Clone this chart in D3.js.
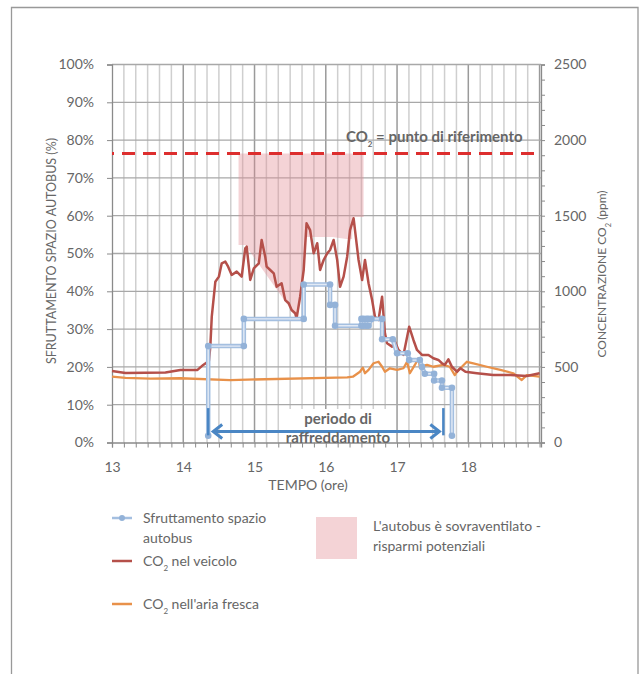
<!DOCTYPE html>
<html>
<head>
<meta charset="utf-8">
<script src="https://cdn.jsdelivr.net/npm/d3@7"></script>
<style>
  body { margin: 0; background: #fff; }
  svg text { font-family: Lato, "Open Sans", sans-serif; fill: #666; }
</style>
</head>
<body>
<svg id="chart" width="639" height="674"></svg>
<script>
// --- data ---
const hourTicks = [13, 14, 15, 16, 17, 18];
const pctTicks = [0, 10, 20, 30, 40, 50, 60, 70, 80, 90, 100];
const ppmTicks = [0, 500, 1000, 1500, 2000, 2500];

const setpoint = 1912; // ppm, "CO2 = punto di riferimento"

// CO2 in the vehicle (ppm)
const co2Time = [13.0, 13.19, 13.75, 13.96, 14.2, 14.28, 14.36, 14.38, 14.40, 14.45, 14.50, 14.54, 14.59, 14.63, 14.68, 14.75, 14.82, 14.87, 14.89, 14.94, 14.99, 15.06, 15.10, 15.15, 15.17, 15.22, 15.27, 15.31, 15.38, 15.43, 15.48, 15.52, 15.57, 15.59, 15.64, 15.69, 15.73, 15.78, 15.83, 15.88, 15.92, 15.97, 16.02, 16.06, 16.11, 16.16, 16.20, 16.25, 16.30, 16.34, 16.39, 16.41, 16.46, 16.51, 16.55, 16.60, 16.65, 16.69, 16.74, 16.79, 16.83, 16.86, 16.93, 16.97, 17.02, 17.09, 17.17, 17.23, 17.28, 17.35, 17.44, 17.51, 17.58, 17.63, 17.67, 17.72, 17.77, 17.84, 17.89, 17.96, 18.12, 18.35, 18.59, 18.82, 19.0];
const co2Vehicle = [473, 460, 463, 480, 480, 513, 539, 638, 832, 1063, 1097, 1185, 1196, 1163, 1108, 1130, 1097, 1284, 1295, 1075, 1152, 1185, 1340, 1229, 1163, 1141, 1119, 1030, 1053, 942, 921, 876, 855, 821, 964, 1141, 1450, 1405, 1251, 1318, 1141, 1207, 1251, 1273, 1339, 1207, 1030, 1097, 1229, 1405, 1483, 1405, 1207, 1075, 1207, 1053, 942, 832, 810, 964, 722, 656, 634, 667, 612, 579, 766, 678, 612, 579, 579, 557, 546, 524, 513, 550, 501, 468, 491, 468, 458, 446, 446, 440, 458];

// CO2 in fresh air (ppm)
const freshTime = [13.0, 13.19, 13.54, 13.96, 14.66, 16.30, 16.38, 16.48, 16.52, 16.55, 16.60, 16.67, 16.74, 16.79, 16.83, 16.90, 17.0, 17.09, 17.14, 17.18, 17.25, 17.30, 17.32, 17.42, 17.51, 17.65, 17.74, 17.81, 17.86, 17.91, 17.98, 18.07, 18.26, 18.45, 18.63, 18.75, 18.82, 19.0];
const freshAir = [435, 427, 422, 425, 413, 431, 435, 468, 495, 458, 480, 524, 534, 501, 468, 491, 480, 491, 534, 458, 513, 557, 501, 513, 501, 513, 501, 446, 480, 501, 534, 524, 501, 480, 458, 413, 446, 435];

// bus space use (%), step series with markers
const busTime = [14.35, 14.35, 14.85, 14.85, 15.69, 15.69, 16.06, 16.06, 16.13, 16.13, 16.50, 16.50, 16.53, 16.53, 16.57, 16.57, 16.60, 16.60, 16.64, 16.79, 16.79, 16.94, 17.0, 17.15, 17.17, 17.32, 17.35, 17.39, 17.52, 17.52, 17.63, 17.63, 17.77, 17.77];
const busPct = [1.8, 25.5, 25.5, 32.7, 32.7, 41.8, 41.8, 36.4, 36.4, 30.9, 30.9, 32.7, 32.7, 30.9, 30.9, 32.7, 32.7, 30.9, 32.7, 32.7, 27.3, 27.3, 23.6, 23.6, 21.8, 21.8, 20.0, 18.2, 18.2, 16.4, 16.4, 14.5, 14.5, 1.8];

// over-ventilation band: from lower edge (ppm) up to the setpoint
const savingsTime = [14.776, 14.87, 15.595, 15.64, 15.687, 15.73, 16.09, 16.29, 16.37, 16.38, 16.53];
const savingsLow = [1306, 1306, 823, 962, 1141, 1359, 1359, 1346, 1346, 1491, 1491];

// cooling period arrow
const coolStart = 14.35, coolEnd = 17.65, coolLevel = 2.9;

// --- layout ---
const svg = d3.select("#chart");
const plotLeft = 112, plotRight = 541, plotTop = 64.5, plotBottom = 442.5;

const x = d3.scaleLinear().domain([13, 19.02]).range([plotLeft, plotRight]);
const y = d3.scaleLinear().domain([0, 100]).range([plotBottom, plotTop]);
const yR = d3.scaleLinear().domain([0, 2500]).range([plotBottom, plotTop]);

// outer frame
svg.append("path")
    .attr("d", "M11.5,680 L11.5,7.5 L638,7.5 L638,680")
    .attr("fill", "none")
    .attr("stroke", "#999")
    .attr("stroke-width", 1.3);

// Vertical gridlines, 10 minute steps
const minorTimes = d3.range(0, 37).map(i => 13 + i / 6);
svg.append("g").selectAll("line")
    .data(minorTimes.filter((d, i) => i % 6 !== 0 && i > 0))
    .enter().append("line")
    .attr("x1", d => x(d)).attr("x2", d => x(d))
    .attr("y1", plotTop).attr("y2", plotBottom)
    .attr("stroke", "#cfcfcf").attr("stroke-width", 1.5);
svg.append("g").selectAll("line")
    .data(hourTicks.slice(1).concat([19]))
    .enter().append("line")
    .attr("x1", d => x(d)).attr("x2", d => x(d))
    .attr("y1", plotTop).attr("y2", plotBottom)
    .attr("stroke", "#9a9a9a").attr("stroke-width", 1.5);

// horizontal gridlines
svg.append("g").selectAll("line")
    .data(pctTicks.slice(1))
    .enter().append("line")
    .attr("x1", plotLeft).attr("x2", plotRight)
    .attr("y1", d => y(d)).attr("y2", d => y(d))
    .attr("stroke", "#a8a8a8").attr("stroke-width", 1.3);

// Over-ventilation area
const band = savingsTime.map((t, i) => ({ t: t, low: savingsLow[i] }));
svg.append("path")
    .datum(band)
    .attr("d", d3.area().x(d => x(d.t)).y0(d => yR(d.low)).y1(yR(setpoint)))
    .attr("fill", "rgb(226,140,146)")
    .attr("fill-opacity", 0.38);

// axes
const xAxis = svg.append("g")
    .attr("transform", `translate(0,${plotBottom})`)
    .call(d3.axisBottom(x).tickValues(minorTimes).tickSize(5).tickFormat(""));
xAxis.select(".domain").attr("stroke", "#8a8a8a").attr("stroke-width", 1.3);
xAxis.selectAll(".tick line").attr("stroke", "#8a8a8a");

const xLabels = svg.append("g")
    .attr("transform", `translate(0,${plotBottom})`)
    .call(d3.axisBottom(x).tickValues(hourTicks).tickSize(0).tickPadding(20).tickFormat(d3.format("d")));
xLabels.select(".domain").remove();
xLabels.selectAll("text").style("font-size", "14px").attr("fill", "#666");

const yAxis = svg.append("g")
    .attr("transform", `translate(${plotLeft},0)`)
    .call(d3.axisLeft(y).tickValues(pctTicks).tickSize(5).tickPadding(13).tickFormat(d => d + "%"));
yAxis.select(".domain").attr("stroke", "#8a8a8a").attr("stroke-width", 1.3);
yAxis.selectAll(".tick line").attr("stroke", "#8a8a8a");
yAxis.selectAll("text").style("font-size", "14px").attr("fill", "#666");

const yRMinor = svg.append("g")
    .attr("transform", `translate(${plotRight},0)`)
    .call(d3.axisRight(yR).tickValues(d3.range(0, 2501, 100)).tickSize(4).tickFormat(""));
yRMinor.select(".domain").attr("stroke", "#8a8a8a").attr("stroke-width", 1.3);
yRMinor.selectAll(".tick line").attr("stroke", "#8a8a8a");

const yRAxis = svg.append("g")
    .attr("transform", `translate(${plotRight},0)`)
    .call(d3.axisRight(yR).tickValues(ppmTicks).tickSize(0).tickPadding(13).tickFormat(d3.format("d")));
yRAxis.select(".domain").remove();
yRAxis.selectAll("text").style("font-size", "14px").attr("fill", "#666");

// fresh air line
const line = d3.line().x(d => x(d[0])).y(d => yR(d[1]));
svg.append("path")
    .datum(freshTime.map((t, i) => [t, freshAir[i]]))
    .attr("d", line)
    .attr("fill", "none").attr("stroke", "#e8914a").attr("stroke-width", 2.3)
    .attr("stroke-linejoin", "round");

// vehicle line
svg.append("path")
    .datum(co2Time.map((t, i) => [t, co2Vehicle[i]]))
    .attr("d", line)
    .attr("fill", "none").attr("stroke", "#b5504a").attr("stroke-width", 2.5)
    .attr("stroke-linejoin", "round");

// bus use step line
const busPts = busTime.map((t, i) => [t, busPct[i]]);
const busLine = d3.line().x(d => x(d[0])).y(d => y(d[1]));
svg.append("path").datum(busPts).attr("d", busLine)
    .attr("fill", "none").attr("stroke", "#a4bfe0").attr("stroke-width", 4.5);
svg.append("path").datum(busPts).attr("d", busLine)
    .attr("fill", "none").attr("stroke", "#e2eaf5").attr("stroke-width", 1.4);
svg.append("g").selectAll("circle")
    .data(busPts).enter().append("circle")
    .attr("cx", d => x(d[0])).attr("cy", d => y(d[1]))
    .attr("r", 3.3).attr("fill", "#93b2d8");

// set point dashed line
svg.append("line")
    .attr("x1", plotLeft).attr("x2", plotRight - 1)
    .attr("y1", yR(setpoint)).attr("y2", yR(setpoint))
    .attr("stroke", "#dd2e2e").attr("stroke-width", 3)
    .attr("stroke-dasharray", "13,8").attr("stroke-dashoffset", 11);

const spLabel = svg.append("text")
    .attr("x", 346).attr("y", yR(setpoint) - 11)
    .style("font-size", "15px").style("font-weight", "bold").attr("fill", "#777");
spLabel.append("tspan").text("CO");
spLabel.append("tspan").text("2").style("font-size", "8px").attr("dy", 5);
spLabel.append("tspan").text(" = punto di riferimento").attr("dy", -5);

// cooling period arrow
const ay = y(coolLevel);
svg.append("rect")
    .attr("x", 284).attr("y", 409).attr("width", 108).attr("height", 33)
    .attr("fill", "#fff");
const arrowColor = "#4a86c4";
[coolStart, coolEnd].forEach(t => {
    svg.append("line")
        .attr("x1", x(t)).attr("x2", x(t))
        .attr("y1", y(9.1)).attr("y2", y(1.9))
        .attr("stroke", arrowColor).attr("stroke-width", 2.5);
});
svg.append("line")
    .attr("x1", x(coolStart) + 5).attr("x2", x(coolEnd) - 4)
    .attr("y1", ay).attr("y2", ay)
    .attr("stroke", arrowColor).attr("stroke-width", 3);
svg.append("path")
    .attr("d", `M${x(coolStart) + 14},${ay - 7} L${x(coolStart) + 5},${ay} L${x(coolStart) + 14},${ay + 7}`)
    .attr("fill", "none").attr("stroke", arrowColor).attr("stroke-width", 3);
svg.append("path")
    .attr("d", `M${x(coolEnd) - 13},${ay - 7} L${x(coolEnd) - 4},${ay} L${x(coolEnd) - 13},${ay + 7}`)
    .attr("fill", "none").attr("stroke", arrowColor).attr("stroke-width", 3);

svg.append("text").attr("x", 338).attr("y", 424)
    .attr("text-anchor", "middle")
    .style("font-size", "15px").style("font-weight", "bold").attr("fill", "#6d6d6d")
    .text("periodo di");
svg.append("text").attr("x", 338).attr("y", 443)
    .attr("text-anchor", "middle")
    .style("font-size", "15px").style("font-weight", "bold").attr("fill", "#6d6d6d")
    .text("raffreddamento");

// axis titles
svg.append("text")
    .attr("transform", "rotate(-90)")
    .attr("x", -251).attr("y", 56)
    .attr("text-anchor", "middle")
    .style("font-size", "12.5px")
    .text("SFRUTTAMENTO SPAZIO AUTOBUS (%)");

const rTitle = svg.append("text")
    .attr("transform", "rotate(-90)")
    .attr("x", -274).attr("y", 606)
    .attr("text-anchor", "middle")
    .style("font-size", "12px");
rTitle.append("tspan").text("CONCENTRAZIONE CO");
rTitle.append("tspan").text("2").style("font-size", "7.5px").attr("dy", 5);
rTitle.append("tspan").text(" (ppm)").attr("dy", -5);

svg.append("text")
    .attr("x", 308).attr("y", 490)
    .attr("text-anchor", "middle")
    .style("font-size", "14px")
    .text("TEMPO (ore)");

// legend
const lg = svg.append("g");
lg.append("line").attr("x1", 112).attr("x2", 132).attr("y1", 518).attr("y2", 518)
    .attr("stroke", "#a4bfe0").attr("stroke-width", 2.5);
lg.append("circle").attr("cx", 122).attr("cy", 518).attr("r", 3).attr("fill", "#93b2d8");
lg.append("text").attr("x", 143).attr("y", 523).style("font-size", "14px").text("Sfruttamento spazio");
lg.append("text").attr("x", 143).attr("y", 543).style("font-size", "14px").text("autobus");

lg.append("line").attr("x1", 112).attr("x2", 132).attr("y1", 561).attr("y2", 561)
    .attr("stroke", "#b5504a").attr("stroke-width", 2.5);
const l2 = lg.append("text").attr("x", 143).attr("y", 566).style("font-size", "14px");
l2.append("tspan").text("CO");
l2.append("tspan").text("2").style("font-size", "8px").attr("dy", 5);
l2.append("tspan").text(" nel veicolo").attr("dy", -5);

lg.append("line").attr("x1", 112).attr("x2", 132).attr("y1", 604).attr("y2", 604)
    .attr("stroke", "#e8914a").attr("stroke-width", 2.5);
const l3 = lg.append("text").attr("x", 143).attr("y", 609).style("font-size", "14px");
l3.append("tspan").text("CO");
l3.append("tspan").text("2").style("font-size", "8px").attr("dy", 5);
l3.append("tspan").text(" nell'aria fresca").attr("dy", -5);

lg.append("rect").attr("x", 316).attr("y", 517).attr("width", 41).attr("height", 42)
    .attr("fill", "rgb(226,140,146)").attr("fill-opacity", 0.38);
lg.append("text").attr("x", 373).attr("y", 531).style("font-size", "14px").text("L'autobus è sovraventilato -");
lg.append("text").attr("x", 373).attr("y", 551).style("font-size", "14px").text("risparmi potenziali");
</script>
</body>
</html>
